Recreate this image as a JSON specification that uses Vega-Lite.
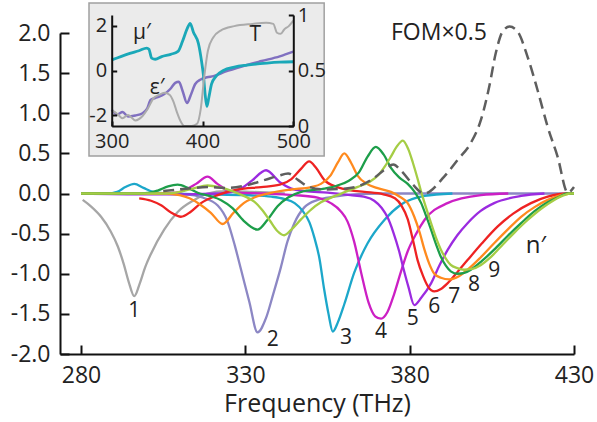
{
  "$schema": "https://vega.github.io/schema/vega-lite/v6.json",
  "width": 514,
  "height": 321,
  "autosize": "none",
  "padding": {"left": 60, "top": 33, "right": 23, "bottom": 68},
  "background": "white",
  "config": {
    "view": {"stroke": null},
    "font": "Open Sans",
    "axis": {"grid": false, "domainColor": "#111", "tickColor": "#111", "labelColor": "#222", "titleColor": "#222", "domainWidth": 2, "tickWidth": 2, "labelOverlap": false, "labelBound": false, "labelFlush": false, "labelFont": "Open Sans", "titleFont": "Open Sans"}
  },
  "datasets": {
    "curves": [
      {"c":"1","f":280.5,"v":-0.08},{"c":"1","f":283,"v":-0.16},{"c":"1","f":286.1,"v":-0.29},{"c":"1","f":289,"v":-0.47},{"c":"1","f":291.2,"v":-0.66},{"c":"1","f":293,"v":-0.88},{"c":"1","f":294.5,"v":-1.1},{"c":"1","f":296.2,"v":-1.28},{"c":"1","f":297.8,"v":-1.13},{"c":"1","f":299.5,"v":-0.92},{"c":"1","f":301.3,"v":-0.75},{"c":"1","f":305.3,"v":-0.45},{"c":"1","f":309.4,"v":-0.23},{"c":"1","f":314.5,"v":-0.08},{"c":"1","f":318.5,"v":0.0},{"c":"1","f":324,"v":0.03},{"c":"1","f":332,"v":0.02},{"c":"1","f":342,"v":0.0},
      {"c":"2","f":280,"v":0},{"c":"2","f":300,"v":0},{"c":"2","f":312,"v":-0.01},{"c":"2","f":317,"v":-0.05},{"c":"2","f":321.6,"v":-0.15},{"c":"2","f":324.6,"v":-0.35},{"c":"2","f":326.8,"v":-0.65},{"c":"2","f":328.7,"v":-0.95},{"c":"2","f":331.2,"v":-1.35},{"c":"2","f":333.7,"v":-1.73},{"c":"2","f":336.3,"v":-1.55},{"c":"2","f":338.5,"v":-1.25},{"c":"2","f":340.8,"v":-0.92},{"c":"2","f":342.8,"v":-0.6},{"c":"2","f":344.9,"v":-0.37},{"c":"2","f":348,"v":-0.17},{"c":"2","f":352,"v":-0.08},{"c":"2","f":357,"v":-0.04},{"c":"2","f":363,"v":-0.01},{"c":"2","f":372,"v":0},{"c":"2","f":430,"v":0},
      {"c":"3","f":280,"v":0},{"c":"3","f":288,"v":0},{"c":"3","f":291,"v":0.02},{"c":"3","f":293.5,"v":0.08},{"c":"3","f":296.2,"v":0.12},{"c":"3","f":299,"v":0.07},{"c":"3","f":302,"v":0.02},{"c":"3","f":306,"v":0},{"c":"3","f":318,"v":-0.01},{"c":"3","f":330,"v":-0.02},{"c":"3","f":338,"v":-0.04},{"c":"3","f":342,"v":-0.07},{"c":"3","f":345,"v":-0.12},{"c":"3","f":347.5,"v":-0.22},{"c":"3","f":349.5,"v":-0.36},{"c":"3","f":351,"v":-0.55},{"c":"3","f":352.5,"v":-0.8},{"c":"3","f":354,"v":-1.2},{"c":"3","f":355.3,"v":-1.5},{"c":"3","f":356.6,"v":-1.72},{"c":"3","f":358.2,"v":-1.6},{"c":"3","f":360.1,"v":-1.38},{"c":"3","f":363.1,"v":-0.99},{"c":"3","f":367.2,"v":-0.62},{"c":"3","f":372.3,"v":-0.33},{"c":"3","f":377.3,"v":-0.14},{"c":"3","f":384.5,"v":-0.03},{"c":"3","f":393,"v":0},
      {"c":"4","f":280,"v":0},{"c":"4","f":305,"v":0},{"c":"4","f":309,"v":0.01},{"c":"4","f":312,"v":0.05},{"c":"4","f":315,"v":0.12},{"c":"4","f":318.5,"v":0.21},{"c":"4","f":321.5,"v":0.12},{"c":"4","f":324.5,"v":0.04},{"c":"4","f":328,"v":0.01},{"c":"4","f":336,"v":0},{"c":"4","f":345,"v":-0.02},{"c":"4","f":352,"v":-0.05},{"c":"4","f":356,"v":-0.12},{"c":"4","f":359,"v":-0.22},{"c":"4","f":361.1,"v":-0.35},{"c":"4","f":363.1,"v":-0.6},{"c":"4","f":365.2,"v":-0.98},{"c":"4","f":367.5,"v":-1.36},{"c":"4","f":369.5,"v":-1.53},{"c":"4","f":371.3,"v":-1.56},{"c":"4","f":373.2,"v":-1.48},{"c":"4","f":375.3,"v":-1.25},{"c":"4","f":377.3,"v":-0.98},{"c":"4","f":379.4,"v":-0.72},{"c":"4","f":382,"v":-0.5},{"c":"4","f":384.5,"v":-0.33},{"c":"4","f":391.5,"v":-0.12},{"c":"4","f":401.7,"v":-0.02},{"c":"4","f":410,"v":0},
      {"c":"5","f":280,"v":0},{"c":"5","f":300,"v":-0.01},{"c":"5","f":312,"v":-0.01},{"c":"5","f":322,"v":0},{"c":"5","f":326,"v":0.02},{"c":"5","f":329,"v":0.07},{"c":"5","f":332,"v":0.16},{"c":"5","f":336.3,"v":0.29},{"c":"5","f":340.5,"v":0.14},{"c":"5","f":344,"v":0.06},{"c":"5","f":348,"v":0.03},{"c":"5","f":355,"v":0.01},{"c":"5","f":362,"v":-0.02},{"c":"5","f":366,"v":-0.04},{"c":"5","f":369.2,"v":-0.09},{"c":"5","f":371.5,"v":-0.18},{"c":"5","f":373.3,"v":-0.3},{"c":"5","f":375,"v":-0.48},{"c":"5","f":376.8,"v":-0.72},{"c":"5","f":378.2,"v":-0.95},{"c":"5","f":379.6,"v":-1.16},{"c":"5","f":381.4,"v":-1.39},{"c":"5","f":383.5,"v":-1.3},{"c":"5","f":386.5,"v":-1.12},{"c":"5","f":389,"v":-0.9},{"c":"5","f":391.6,"v":-0.7},{"c":"5","f":394.5,"v":-0.52},{"c":"5","f":397.6,"v":-0.37},{"c":"5","f":401.5,"v":-0.22},{"c":"5","f":405.7,"v":-0.12},{"c":"5","f":413.9,"v":-0.03},{"c":"5","f":421,"v":0},
      {"c":"6","f":297.7,"v":-0.06},{"c":"6","f":301.3,"v":-0.09},{"c":"6","f":304.5,"v":-0.15},{"c":"6","f":307.5,"v":-0.24},{"c":"6","f":310.4,"v":-0.29},{"c":"6","f":313.3,"v":-0.23},{"c":"6","f":316.5,"v":-0.12},{"c":"6","f":321.6,"v":-0.02},{"c":"6","f":327.7,"v":0.05},{"c":"6","f":334.8,"v":0.08},{"c":"6","f":340.5,"v":0.11},{"c":"6","f":344,"v":0.18},{"c":"6","f":347,"v":0.31},{"c":"6","f":349.4,"v":0.4},{"c":"6","f":351.5,"v":0.32},{"c":"6","f":354,"v":0.17},{"c":"6","f":358,"v":0.08},{"c":"6","f":362,"v":0.04},{"c":"6","f":366.2,"v":0.02},{"c":"6","f":372,"v":-0.01},{"c":"6","f":375.5,"v":-0.06},{"c":"6","f":377.5,"v":-0.15},{"c":"6","f":379.4,"v":-0.32},{"c":"6","f":381,"v":-0.58},{"c":"6","f":382.4,"v":-0.83},{"c":"6","f":384,"v":-1.02},{"c":"6","f":385.6,"v":-1.16},{"c":"6","f":387.5,"v":-1.22},{"c":"6","f":389.5,"v":-1.19},{"c":"6","f":391.5,"v":-1.12},{"c":"6","f":394.5,"v":-0.98},{"c":"6","f":397.6,"v":-0.83},{"c":"6","f":402,"v":-0.62},{"c":"6","f":406.8,"v":-0.41},{"c":"6","f":411.5,"v":-0.25},{"c":"6","f":416.9,"v":-0.12},{"c":"6","f":422,"v":-0.04},{"c":"6","f":428,"v":0},{"c":"6","f":430,"v":0},
      {"c":"7","f":280,"v":0},{"c":"7","f":306,"v":0},{"c":"7","f":310,"v":-0.02},{"c":"7","f":313,"v":-0.06},{"c":"7","f":316,"v":-0.13},{"c":"7","f":319.5,"v":-0.24},{"c":"7","f":323.1,"v":-0.38},{"c":"7","f":326.4,"v":-0.24},{"c":"7","f":329.5,"v":-0.12},{"c":"7","f":332.7,"v":-0.05},{"c":"7","f":338,"v":0.01},{"c":"7","f":344,"v":0.05},{"c":"7","f":350,"v":0.08},{"c":"7","f":353,"v":0.12},{"c":"7","f":356,"v":0.23},{"c":"7","f":358.2,"v":0.39},{"c":"7","f":360.1,"v":0.5},{"c":"7","f":362.2,"v":0.38},{"c":"7","f":364.2,"v":0.22},{"c":"7","f":367,"v":0.12},{"c":"7","f":370,"v":0.07},{"c":"7","f":374.3,"v":0.02},{"c":"7","f":377,"v":-0.04},{"c":"7","f":379.4,"v":-0.12},{"c":"7","f":381.4,"v":-0.29},{"c":"7","f":383,"v":-0.48},{"c":"7","f":384.5,"v":-0.7},{"c":"7","f":386,"v":-0.88},{"c":"7","f":387.5,"v":-1.0},{"c":"7","f":389.5,"v":-1.05},{"c":"7","f":392,"v":-1.07},{"c":"7","f":395,"v":-1.03},{"c":"7","f":397.6,"v":-0.95},{"c":"7","f":401.5,"v":-0.8},{"c":"7","f":405.7,"v":-0.62},{"c":"7","f":409.8,"v":-0.45},{"c":"7","f":413.9,"v":-0.29},{"c":"7","f":418,"v":-0.17},{"c":"7","f":422,"v":-0.08},{"c":"7","f":426,"v":-0.02},{"c":"7","f":429,"v":0},{"c":"7","f":430,"v":0},
      {"c":"8","f":280,"v":0},{"c":"8","f":298,"v":0},{"c":"8","f":301,"v":0.01},{"c":"8","f":303.5,"v":0.04},{"c":"8","f":306.5,"v":0.09},{"c":"8","f":309.4,"v":0.11},{"c":"8","f":312.5,"v":0.07},{"c":"8","f":315.5,"v":0.01},{"c":"8","f":319,"v":-0.03},{"c":"8","f":322.5,"v":-0.08},{"c":"8","f":326,"v":-0.18},{"c":"8","f":329.5,"v":-0.34},{"c":"8","f":333.7,"v":-0.45},{"c":"8","f":336.7,"v":-0.33},{"c":"8","f":339.8,"v":-0.16},{"c":"8","f":343,"v":-0.05},{"c":"8","f":347,"v":0.02},{"c":"8","f":354,"v":0.06},{"c":"8","f":358,"v":0.1},{"c":"8","f":361.5,"v":0.16},{"c":"8","f":364.5,"v":0.26},{"c":"8","f":367.2,"v":0.46},{"c":"8","f":369.7,"v":0.58},{"c":"8","f":372,"v":0.49},{"c":"8","f":374.3,"v":0.32},{"c":"8","f":376.8,"v":0.2},{"c":"8","f":379.4,"v":0.12},{"c":"8","f":381.5,"v":0.02},{"c":"8","f":383.5,"v":-0.12},{"c":"8","f":385,"v":-0.28},{"c":"8","f":386.5,"v":-0.45},{"c":"8","f":388,"v":-0.63},{"c":"8","f":389.5,"v":-0.79},{"c":"8","f":391,"v":-0.9},{"c":"8","f":392.5,"v":-0.97},{"c":"8","f":394.6,"v":-1.0},{"c":"8","f":396.6,"v":-0.99},{"c":"8","f":398.6,"v":-0.95},{"c":"8","f":402,"v":-0.84},{"c":"8","f":405.7,"v":-0.7},{"c":"8","f":409.8,"v":-0.53},{"c":"8","f":413.9,"v":-0.37},{"c":"8","f":418,"v":-0.22},{"c":"8","f":422,"v":-0.11},{"c":"8","f":425.5,"v":-0.04},{"c":"8","f":428,"v":0},{"c":"8","f":430,"v":0},
      {"c":"9","f":280,"v":0},{"c":"9","f":306,"v":0},{"c":"9","f":310,"v":0.02},{"c":"9","f":314,"v":0.06},{"c":"9","f":318.5,"v":0.1},{"c":"9","f":322,"v":0.08},{"c":"9","f":326,"v":0.03},{"c":"9","f":329.5,"v":-0.03},{"c":"9","f":332.7,"v":-0.1},{"c":"9","f":335,"v":-0.2},{"c":"9","f":337.5,"v":-0.34},{"c":"9","f":339.8,"v":-0.47},{"c":"9","f":341.8,"v":-0.52},{"c":"9","f":344,"v":-0.45},{"c":"9","f":347,"v":-0.32},{"c":"9","f":350,"v":-0.2},{"c":"9","f":353,"v":-0.11},{"c":"9","f":358,"v":-0.02},{"c":"9","f":364,"v":0.08},{"c":"9","f":368,"v":0.15},{"c":"9","f":370.5,"v":0.23},{"c":"9","f":372.5,"v":0.34},{"c":"9","f":374.3,"v":0.46},{"c":"9","f":376,"v":0.58},{"c":"9","f":377.9,"v":0.66},{"c":"9","f":379.6,"v":0.55},{"c":"9","f":381,"v":0.38},{"c":"9","f":382.3,"v":0.2},{"c":"9","f":383.5,"v":0.02},{"c":"9","f":385,"v":-0.18},{"c":"9","f":386.5,"v":-0.37},{"c":"9","f":388,"v":-0.55},{"c":"9","f":389.5,"v":-0.7},{"c":"9","f":391,"v":-0.81},{"c":"9","f":392.5,"v":-0.89},{"c":"9","f":394.5,"v":-0.93},{"c":"9","f":396.6,"v":-0.95},{"c":"9","f":399,"v":-0.94},{"c":"9","f":401.7,"v":-0.89},{"c":"9","f":404.5,"v":-0.8},{"c":"9","f":407.8,"v":-0.66},{"c":"9","f":411.8,"v":-0.49},{"c":"9","f":415.9,"v":-0.33},{"c":"9","f":420,"v":-0.19},{"c":"9","f":424,"v":-0.08},{"c":"9","f":427,"v":-0.02},{"c":"9","f":429,"v":0},{"c":"9","f":430,"v":0}
    ],
    "fom": [
      {"f":305,"v":0.03},{"f":312,"v":0.06},{"f":318.5,"v":0.08},{"f":324,"v":0.07},{"f":330,"v":0.1},{"f":336,"v":0.17},{"f":340,"v":0.22},{"f":343,"v":0.25},{"f":346,"v":0.17},{"f":349,"v":0.09},{"f":354,"v":0.05},{"f":360,"v":0.06},{"f":365,"v":0.1},{"f":369,"v":0.19},{"f":372.5,"v":0.3},{"f":375,"v":0.36},{"f":377.5,"v":0.28},{"f":381,"v":0.11},{"f":384.4,"v":0.0},{"f":390.5,"v":0.21},{"f":394.6,"v":0.42},{"f":398.6,"v":0.63},{"f":401.7,"v":0.92},{"f":404.2,"v":1.33},{"f":406.2,"v":1.75},{"f":408.3,"v":2.02},{"f":410.4,"v":2.08},{"f":412.8,"v":2.02},{"f":415.9,"v":1.7},{"f":418.9,"v":1.29},{"f":422,"v":0.83},{"f":425,"v":0.46},{"f":428.1,"v":0.01},{"f":430,"v":0.08}
    ],
    "labels": [
      {"t":"1","f":296.2,"v":-1.47},{"t":"2","f":338.3,"v":-1.83},{"t":"3","f":360.6,"v":-1.8},{"t":"4","f":371.3,"v":-1.72},{"t":"5","f":380.9,"v":-1.56},{"t":"6","f":387.5,"v":-1.41},{"t":"7","f":393.6,"v":-1.29},{"t":"8","f":399.6,"v":-1.14},{"t":"9","f":405.7,"v":-0.97}
    ],
    "inset": [
      {"s":"mu","x":300,"y":0.47},{"s":"mu","x":310,"y":0.62},{"s":"mu","x":320,"y":0.76},{"s":"mu","x":330,"y":0.88},{"s":"mu","x":338.6,"y":1.0},{"s":"mu","x":341,"y":0.95},{"s":"mu","x":344,"y":0.55},{"s":"mu","x":348,"y":0.5},{"s":"mu","x":355,"y":0.62},{"s":"mu","x":365,"y":0.72},{"s":"mu","x":373,"y":0.85},{"s":"mu","x":378,"y":1.3},{"s":"mu","x":383,"y":1.85},{"s":"mu","x":386.4,"y":2.1},{"s":"mu","x":390,"y":1.7},{"s":"mu","x":395.5,"y":1.2},{"s":"mu","x":399,"y":0.4},{"s":"mu","x":401,"y":-0.2},{"s":"mu","x":403,"y":-1.1},{"s":"mu","x":404.8,"y":-1.6},{"s":"mu","x":407,"y":-1.2},{"s":"mu","x":410,"y":-0.6},{"s":"mu","x":415,"y":-0.25},{"s":"mu","x":423,"y":0.0},{"s":"mu","x":435,"y":0.15},{"s":"mu","x":449,"y":0.24},{"s":"mu","x":471,"y":0.33},{"s":"mu","x":485,"y":0.37},{"s":"mu","x":500,"y":0.39},
      {"s":"eps","x":300,"y":-1.75},{"s":"eps","x":306,"y":-1.95},{"s":"eps","x":312,"y":-1.85},{"s":"eps","x":318,"y":-2.05},{"s":"eps","x":326,"y":-2.0},{"s":"eps","x":334,"y":-1.9},{"s":"eps","x":339,"y":-1.7},{"s":"eps","x":343,"y":-1.3},{"s":"eps","x":350,"y":-1.2},{"s":"eps","x":358,"y":-1.05},{"s":"eps","x":365,"y":-0.8},{"s":"eps","x":370,"y":-0.55},{"s":"eps","x":374,"y":-0.5},{"s":"eps","x":378,"y":-0.9},{"s":"eps","x":383,"y":-1.45},{"s":"eps","x":387,"y":-1.1},{"s":"eps","x":392,"y":-0.6},{"s":"eps","x":398,"y":-0.4},{"s":"eps","x":405,"y":-0.3},{"s":"eps","x":412,"y":-0.25},{"s":"eps","x":425,"y":-0.05},{"s":"eps","x":445,"y":0.2},{"s":"eps","x":465,"y":0.42},{"s":"eps","x":485,"y":0.63},{"s":"eps","x":500,"y":0.84}
    ],
    "trans": [
      {"x":300,"t":0.14},{"x":306,"t":0.11},{"x":312,"t":0.07},{"x":318,"t":0.1},{"x":326,"t":0.05},{"x":334,"t":0.09},{"x":340,"t":0.16},{"x":346,"t":0.25},{"x":352,"t":0.28},{"x":358,"t":0.3},{"x":364,"t":0.28},{"x":368,"t":0.22},{"x":372,"t":0.12},{"x":376,"t":0.04},{"x":380,"t":0.0},{"x":388,"t":0.0},{"x":394,"t":0.02},{"x":398,"t":0.15},{"x":402,"t":0.45},{"x":406,"t":0.68},{"x":412,"t":0.8},{"x":420,"t":0.86},{"x":435,"t":0.9},{"x":455,"t":0.92},{"x":470,"t":0.93},{"x":478,"t":0.92},{"x":482,"t":0.84},{"x":486,"t":0.83},{"x":490,"t":0.87},{"x":495,"t":0.9},{"x":500,"t":0.95}
    ],
    "insetText": [
      {"t":"μ′","x":333.4,"y":1.67,"it":"italic"},{"t":"ε′","x":350,"y":-0.78,"it":"italic"},{"t":"T","x":458,"y":1.58,"it":"normal"}
    ],
    "mainText": [
      {"t":"FOM×0.5","f":388.9,"v":2.0,"it":"normal","sz":23},{"t":"n′","f":418.4,"v":-0.66,"it":"italic","sz":24}
    ]
  },
  "layer": [
    {
      "layer": [
        {
          "layer": [
            {
              "data": {"values": [{}]},
              "mark": {"type": "rect", "fill": "#ebebeb", "stroke": "#a0a0a0", "strokeWidth": 1.5},
              "encoding": {
                "x": {"datum": 275, "type": "quantitative", "scale": {"domain": [300, 500], "range": [51.7, 233.3], "nice": false, "zero": false}, "axis": {"orient": "bottom", "offset": -228, "values": [300, 400, 500], "tickSize": -5, "labelPadding": 10, "labelFontSize": 20, "title": null, "zindex": 1}},
                "x2": {"datum": 534},
                "y": {"datum": 3.0, "type": "quantitative", "scale": {"domain": [-2.47, 2.47], "range": [93, -18], "nice": false, "zero": false}, "axis": {"orient": "left", "offset": -51.7, "values": [-2, 0, 2], "tickSize": -5, "labelPadding": 10, "labelFontSize": 20, "title": null, "zindex": 1, "labelExpr": "replace(format(datum.value, 'd'), '\u2212', '-')"}},
                "y2": {"datum": -3.8}
              }
            },
            {
              "data": {"name": "inset"},
              "transform": [{"filter": "datum.s == 'eps'"}],
              "mark": {"type": "line", "color": "#8070c0", "strokeWidth": 2.5, "interpolate": "monotone"},
              "encoding": {"x": {"field": "x", "type": "quantitative"}, "y": {"field": "y", "type": "quantitative"}}
            },
            {
              "data": {"name": "inset"},
              "transform": [{"filter": "datum.s == 'mu'"}],
              "mark": {"type": "line", "color": "#1aa8b8", "strokeWidth": 2.8, "interpolate": "monotone"},
              "encoding": {"x": {"field": "x", "type": "quantitative"}, "y": {"field": "y", "type": "quantitative"}}
            },
            {
              "data": {"name": "insetText"},
              "mark": {"type": "text", "fontSize": 21, "color": "#222", "font": "Open Sans"},
              "encoding": {"x": {"field": "x", "type": "quantitative"}, "y": {"field": "y", "type": "quantitative"}, "text": {"field": "t"}, "fontStyle": {"field": "it", "type": "nominal", "scale": null}}
            }
          ]
        },
        {
          "data": {"name": "trans"},
          "mark": {"type": "line", "color": "#ababab", "strokeWidth": 2, "interpolate": "monotone"},
          "encoding": {
            "x": {"field": "x", "type": "quantitative"},
            "y": {"field": "t", "type": "quantitative", "scale": {"domain": [0, 1], "range": [93, -18], "nice": false, "zero": false}, "axis": {"orient": "right", "offset": -280.7, "values": [0, 0.5, 1], "tickSize": -5, "labelPadding": 9, "labelFontSize": 20, "title": null, "zindex": 1, "format": "~g"}}
          }
        }
      ],
      "resolve": {"scale": {"y": "independent"}, "axis": {"y": "independent"}}
    },
    {
      "layer": [
        {
          "data": {"name": "curves"},
          "mark": {"type": "line", "strokeWidth": 2.3, "interpolate": "monotone"},
          "encoding": {
            "x": {"field": "f", "type": "quantitative", "scale": {"domain": [273.6, 430], "nice": false, "zero": false}, "axis": {"orient": "bottom", "values": [280, 330, 380, 430], "tickSize": -9, "labelPadding": 19, "labelFontSize": 23, "title": "Frequency (THz)", "titleFontSize": 25, "titleFontWeight": "normal", "titlePadding": 4}},
            "y": {"field": "v", "type": "quantitative", "scale": {"domain": [-2, 2], "nice": false, "zero": false}, "axis": {"orient": "left", "values": [-2, -1.5, -1, -0.5, 0, 0.5, 1, 1.5, 2], "tickSize": -9, "labelPadding": 19, "labelFontSize": 23, "title": null, "labelExpr": "replace(format(datum.value, '.1f'), '\u2212', '-')"}},
            "color": {"field": "c", "type": "nominal", "scale": {"domain": ["1","2","3","4","5","6","7","8","9"], "range": ["#a6a6a6","#8c87c4","#1ca7ca","#cc1fc4","#9b2be0","#ee2222","#ff8a1e","#1d9e4a","#a5cd45"]}, "legend": null}
          }
        },
        {
          "data": {"name": "fom"},
          "mark": {"type": "line", "color": "#5e5e5e", "strokeWidth": 2.5, "strokeDash": [11, 6], "interpolate": "monotone"},
          "encoding": {"x": {"field": "f", "type": "quantitative"}, "y": {"field": "v", "type": "quantitative"}}
        },
        {
          "data": {"name": "labels"},
          "mark": {"type": "text", "fontSize": 21, "color": "#222", "font": "Open Sans"},
          "encoding": {"x": {"field": "f", "type": "quantitative"}, "y": {"field": "v", "type": "quantitative"}, "text": {"field": "t"}}
        },
        {
          "data": {"name": "mainText"},
          "mark": {"type": "text", "color": "#222", "font": "Open Sans"},
          "encoding": {"x": {"field": "f", "type": "quantitative"}, "y": {"field": "v", "type": "quantitative"}, "text": {"field": "t"}, "fontStyle": {"field": "it", "type": "nominal", "scale": null}, "size": {"field": "sz", "type": "quantitative", "scale": null}}
        }
      ]
    }
  ],
  "resolve": {"scale": {"x": "independent", "y": "independent"}, "axis": {"x": "independent", "y": "independent"}}
}
